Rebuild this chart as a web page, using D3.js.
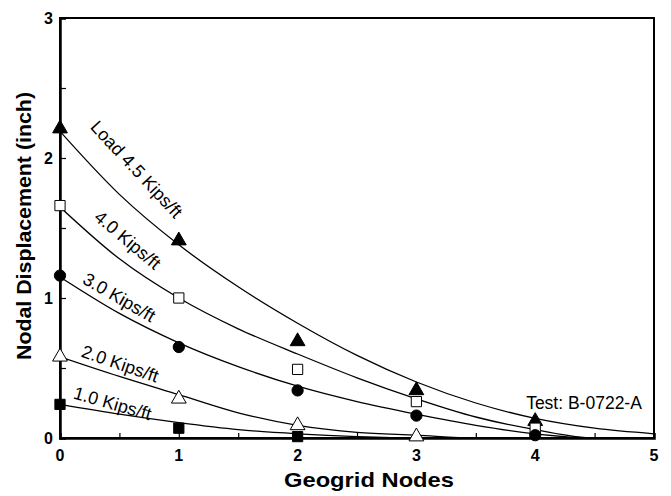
<!DOCTYPE html>
<html>
<head>
<meta charset="utf-8">
<script src="https://cdn.jsdelivr.net/npm/d3@7"></script>
<style>
  html, body { margin: 0; padding: 0; background: #fff; }
  svg { display: block; }
  text { font-family: "Liberation Sans", Arial, Helvetica, sans-serif; fill: #000; }
</style>
</head>
<body>
<svg id="chart" width="671" height="496"></svg>
<script>
// ---------- data ----------
const nodes = [0, 1, 2, 3, 4];
const xTicks = [0, 1, 2, 3, 4, 5];
const yTicks = [0, 1, 2, 3];

const loadNames = ["Load 4.5 Kips/ft", "4.0 Kips/ft", "3.0 Kips/ft", "2.0 Kips/ft", "1.0 Kips/ft"];
const markerTypes = ["triUp", "squareOpen", "circle", "triOpen", "square"];

// measured nodal displacements (inch)
const load45 = [2.21, 1.41, 0.69, 0.34, 0.12];
const load40 = [1.66, 1.00, 0.49, 0.26, 0.07];
const load30 = [1.16, 0.65, 0.34, 0.16, 0.02];
const load20 = [0.58, 0.28, 0.09, 0.01];
const load10 = [0.24, 0.07, 0.01];

// fitted curves
const curveX = [0, 0.5, 1, 1.5, 2, 2.5, 3, 3.5, 4, 4.5, 5];
const fit45 = [2.19, 1.74, 1.38, 1.08, 0.82, 0.59, 0.40, 0.25, 0.14, 0.07, 0.03];
const fit40 = [1.65, 1.28, 1.00, 0.78, 0.60, 0.43, 0.28, 0.15, 0.06, 0.00, 0.00];
const fit30 = [1.15, 0.89, 0.68, 0.51, 0.37, 0.26, 0.17, 0.09, 0.03, 0.00, 0.00];
const fit20 = [0.58, 0.44, 0.31, 0.18, 0.09, 0.04, 0.02, 0.00, 0.00, 0.00, 0.00];
const fit10 = [0.24, 0.17, 0.11, 0.06, 0.03, 0.01, 0.00, 0.00, 0.00, 0.00, 0.00];

// label anchor points in data coordinates, with rotation
const labelX = [0.644, 0.568, 0.497, 0.505, 0.442];
const labelY = [1.918, 1.414, 1.004, 0.529, 0.246];
const labelAngle = [47, 40, 30, 19, 16];

const measured = [load45, load40, load30, load20, load10];
const fits = [fit45, fit40, fit30, fit20, fit10];

// ---------- layout ----------
const svg = d3.select("#chart");
const mLeft = 60, mRight = 654, mTop = 18, mBottom = 438;

const x = d3.scaleLinear().domain([0, 5]).range([mLeft, mRight]);
const y = d3.scaleLinear().domain([0, 3]).range([mBottom, mTop]);

svg.append("defs").append("clipPath").attr("id", "plotclip")
  .append("rect").attr("x", mLeft).attr("y", mTop).attr("width", mRight - mLeft).attr("height", mBottom - mTop);

// frame
svg.append("rect")
  .attr("x", mLeft).attr("y", mTop)
  .attr("width", mRight - mLeft).attr("height", mBottom - mTop)
  .attr("fill", "none").attr("stroke", "#000").attr("stroke-width", 2);

// axes (ticks inward)
const xAxis = d3.axisBottom(x).tickValues(d3.range(0, 5.01, 0.5)).tickSize(-5).tickFormat(() => "");
const gx = svg.append("g").attr("transform", `translate(0,${mBottom})`).call(xAxis);
gx.select(".domain").attr("stroke-width", 2.5);
gx.selectAll(".tick line").attr("stroke-width", 1.2);

const yAxis = d3.axisLeft(y).tickValues(d3.range(0, 3.01, 0.5)).tickSize(-6).tickFormat(() => "");
const gy = svg.append("g").attr("transform", `translate(${mLeft},0)`).call(yAxis);
gy.select(".domain").attr("stroke-width", 2.5);
gy.selectAll(".tick line").attr("stroke-width", 1.2);

// tick labels
svg.append("g").selectAll("text").data(xTicks).join("text")
  .attr("x", d => x(d)).attr("y", mBottom + 23)
  .attr("text-anchor", "middle")
  .attr("font-size", 16).attr("font-weight", "bold")
  .text(d => d);

svg.append("g").selectAll("text").data(yTicks).join("text")
  .attr("x", mLeft - 7).attr("y", d => y(d) + 6)
  .attr("text-anchor", "end")
  .attr("font-size", 16).attr("font-weight", "bold")
  .text(d => d);

// axis titles
svg.append("text")
  .attr("x", 369).attr("y", 487)
  .attr("text-anchor", "middle")
  .attr("font-size", 21).attr("font-weight", "bold")
  .attr("textLength", 170).attr("lengthAdjust", "spacingAndGlyphs")
  .text("Geogrid Nodes");

svg.append("text")
  .attr("transform", "translate(31,226) rotate(-90)")
  .attr("text-anchor", "middle")
  .attr("font-size", 21).attr("font-weight", "bold")
  .attr("textLength", 268).attr("lengthAdjust", "spacingAndGlyphs")
  .text("Nodal Displacement (inch)");

// fitted curves
const line = d3.line()
  .x((d, i) => x(curveX[i]))
  .y(d => y(d))
  .curve(d3.curveMonotoneX);

svg.append("g").attr("clip-path", "url(#plotclip)")
  .selectAll("path").data(fits).join("path")
  .attr("d", d => line(d))
  .attr("fill", "none").attr("stroke", "#000").attr("stroke-width", 1.3);

// markers
const symTri = d3.symbol().type(d3.symbolTriangle).size(95);
const symSq = d3.symbol().type(d3.symbolSquare).size(105);
const symCirc = d3.symbol().type(d3.symbolCircle).size(100);

measured.forEach((vals, si) => {
  const type = markerTypes[si];
  const g = svg.append("g");
  vals.forEach((v, i) => {
    const cx = x(nodes[i]), cy = y(v);
    let path, fill;
    if (type === "triUp") { path = symTri(); fill = "#000"; }
    else if (type === "triOpen") { path = symTri(); fill = "#fff"; }
    else if (type === "squareOpen") { path = symSq(); fill = "#fff"; }
    else if (type === "square") { path = symSq(); fill = "#000"; }
    else { path = symCirc(); fill = "#000"; }
    g.append("path")
      .attr("d", path)
      .attr("transform", `translate(${cx},${cy})`)
      .attr("fill", fill).attr("stroke", "#000").attr("stroke-width", 1);
  });
});

// curve labels
svg.append("g").selectAll("text").data(loadNames).join("text")
  .attr("transform", (d, i) => `translate(${x(labelX[i])},${y(labelY[i])}) rotate(${labelAngle[i]})`)
  .attr("text-anchor", "middle")
  .attr("dominant-baseline", "central")
  .attr("font-size", 18)
  .text(d => d);

// test label
svg.append("text")
  .attr("x", 584).attr("y", 409)
  .attr("text-anchor", "middle")
  .attr("font-size", 17.5)
  .text("Test: B-0722-A");
</script>
</body>
</html>
